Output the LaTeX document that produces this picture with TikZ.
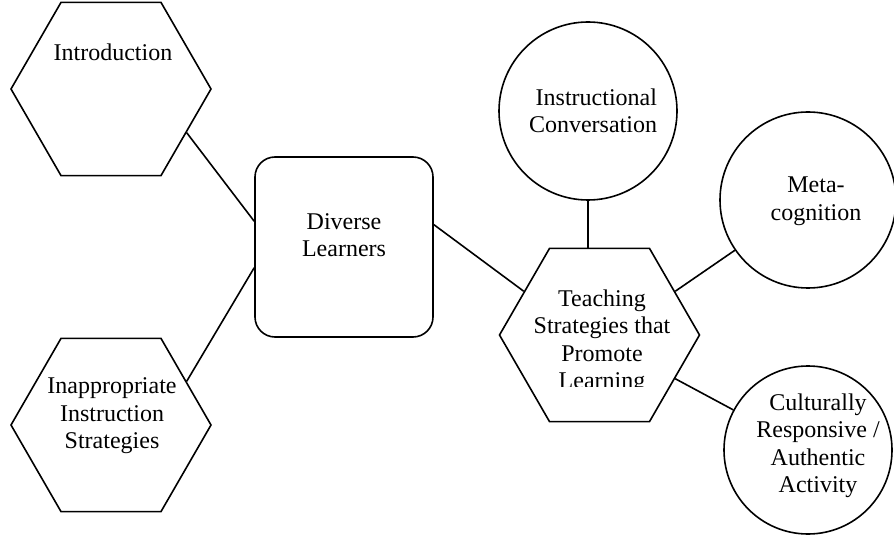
\documentclass[tikz,border=0pt]{standalone}
\usepackage{fontspec}
\setmainfont{Liberation Serif}
\usetikzlibrary{shapes.geometric}

\tikzset{
  hexa/.style={draw, regular polygon, regular polygon sides=6, minimum size=200pt, inner sep=0pt},
  bubble/.style={draw, circle, inner sep=0pt},
  roundbox/.style={draw, rounded corners=20pt, minimum width=178pt, minimum height=180pt},
  words/.style={align=center, font=\fontsize{24}{27.5}\selectfont, inner sep=0pt},
}

\begin{document}
\begin{tikzpicture}[x=1pt, y=-1pt, line width=1.6pt]
\useasboundingbox (0,0) rectangle (894,537);
\node[hexa] (intro) at (111,89) {};
\node[hexa] (inapp) at (111,425) {};
\node[roundbox] (learners) at (344,247) {};
\node[hexa] (teach) at (599.5,335) {};
\node[bubble, minimum size=178pt] (convo) at (588,111) {};
\node[bubble, minimum size=176pt] (meta) at (808,200) {};
\node[bubble, minimum size=168pt] (cult) at (808,450) {};
% texts
\node[words] (introtext) at (113,52) {Introduction};
\node[words] (inapptext) at (112,416) {Inappropriate\\Instruction\\Strategies};
\node[words] (learnerstext) at (344,235) {Diverse\\Learners};
\begin{scope}
\clip (480,240) rectangle (720,386);
\node[words] (teachtext) at (602,342) {Teaching\\Strategies that\\Promote\\Learning};
\end{scope}
\node[words, align=right] (convotext) at (593,111) {Instructional\\Conversation};
\node[words] (metatext) at (816,201) {Meta-\\cognition};
\node[words] (culttext) at (818,446) {Culturally\\Responsive /\\Authentic\\Activity};
% links
\draw (intro.-30) -- (learners.164);
\draw (inapp.30) -- (learners.193);
\draw (learners.14) -- (teach.150);
\draw (convo.south) -- (convo.south |- teach.north);
\draw (teach.30) -- (meta);
\draw (teach.-30) -- (cult);
\end{tikzpicture}
\end{document}
